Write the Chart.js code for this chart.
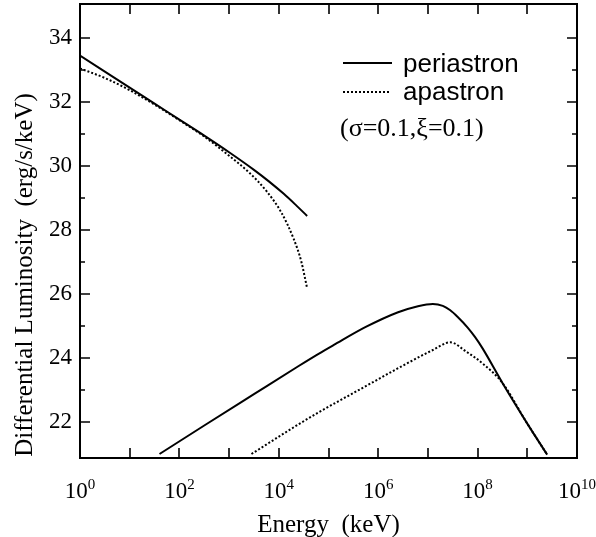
<!DOCTYPE html>
<html>
<head>
<meta charset="utf-8">
<script src="https://cdn.jsdelivr.net/npm/chart.js@4.4.1/dist/chart.umd.min.js"></script>
<style>
  html, body { margin: 0; padding: 0; background: #fff; }
  #wrap { width: 596px; height: 537px; }
</style>
</head>
<body>
<div id="wrap"><canvas id="myChart" width="596" height="537"></canvas></div>
<script>
// energies are given as log10(E / keV), luminosity as log10(erg/s/keV)
const periHighLogE = [0, 0.5, 1, 1.5, 2, 2.5, 3, 3.5, 3.8, 4.1, 4.35, 4.57];
const periHighLum  = [33.45, 32.95, 32.45, 31.95, 31.45, 30.95, 30.43, 29.88, 29.52, 29.13, 28.77, 28.44];

const apoHighLogE = [0, 0.5, 1, 1.5, 2, 2.5, 3, 3.4, 3.75, 4.05, 4.3, 4.45, 4.57];
const apoHighLum  = [33.05, 32.75, 32.37, 31.92, 31.43, 30.92, 30.32, 29.8, 29.22, 28.55, 27.72, 27.03, 26.18];

const periLowLogE = [1.6, 2.5, 3.5, 4.4, 4.8, 5.1, 5.75, 6.4, 6.8, 7.1, 7.3, 7.45, 7.6, 7.8, 7.95, 8.1, 8.5, 9.0, 9.4];
const periLowLum  = [21.0, 21.89, 22.87, 23.75, 24.13, 24.4, 24.97, 25.43, 25.62, 25.69, 25.63, 25.49, 25.28, 24.95, 24.65, 24.3, 23.22, 21.95, 20.98];

const apoLowLogE = [3.45, 4.4, 4.8, 5.75, 6.4, 7.1, 7.45, 7.77, 8.1, 8.5, 9.0, 9.4];
const apoLowLum  = [21.0, 21.93, 22.3, 23.12, 23.68, 24.25, 24.49, 24.2, 23.83, 23.22, 21.95, 20.98];

const yTickValues = [22, 24, 26, 28, 30, 32, 34];
const xTickExps = [0, 2, 4, 6, 8, 10];

const serif = '"Liberation Serif", "Times New Roman", serif';
const sans = '"Liberation Sans", Arial, sans-serif';

const toPoints = (logE, lum) => logE.map((e, i) => ({ x: Math.pow(10, e), y: lum[i] }));

function line(label, logE, lum, dotted) {
    return {
        label: label,
        data: toPoints(logE, lum),
        borderColor: '#000',
        borderWidth: 2,
        borderDash: dotted ? [2, 2] : [],
        borderCapStyle: 'butt',
        pointRadius: 0,
        fill: false,
        cubicInterpolationMode: 'monotone'
    };
}

// frame with inward ticks, superscript x labels, titles and legend
const frame = {
    id: 'frame',
    afterDraw(chart) {
        const { ctx, chartArea: a, scales: { x, y } } = chart;
        ctx.save();
        ctx.strokeStyle = '#000';
        ctx.lineWidth = 2;
        ctx.strokeRect(a.left, a.top, a.right - a.left, a.bottom - a.top);

        ctx.lineWidth = 1.6;
        ctx.beginPath();
        for (let e = 1; e <= 9; e++) {
            const px = Math.round(x.getPixelForValue(Math.pow(10, e)));
            ctx.moveTo(px, a.bottom); ctx.lineTo(px, a.bottom - 10);
            ctx.moveTo(px, a.top); ctx.lineTo(px, a.top + 10);
        }
        for (let v = 22; v <= 34; v++) {
            const py = Math.round(y.getPixelForValue(v));
            const len = v % 2 === 0 ? 10 : 5;
            ctx.moveTo(a.left, py); ctx.lineTo(a.left + len, py);
            ctx.moveTo(a.right, py); ctx.lineTo(a.right - len, py);
        }
        ctx.stroke();

        ctx.fillStyle = '#000';
        ctx.textBaseline = 'alphabetic';
        ctx.textAlign = 'left';
        xTickExps.forEach(e => {
            const px = x.getPixelForValue(Math.pow(10, e));
            ctx.font = '23px ' + serif;
            const w1 = ctx.measureText('10').width;
            ctx.font = '15px ' + serif;
            const w2 = ctx.measureText(String(e)).width;
            const left = px - (w1 + w2) / 2;
            ctx.font = '23px ' + serif;
            ctx.fillText('10', left, 498);
            ctx.font = '15px ' + serif;
            ctx.fillText(String(e), left + w1, 489);
        });

        ctx.textAlign = 'center';
        ctx.font = '25px ' + serif;
        ctx.fillText('Energy  (keV)', (a.left + a.right) / 2, 532);

        ctx.save();
        ctx.translate(32, 275);
        ctx.rotate(-Math.PI / 2);
        ctx.fillText('Differential Luminosity  (erg/s/keV)', 0, 0);
        ctx.restore();

        // legend
        ctx.lineWidth = 2;
        ctx.beginPath();
        ctx.moveTo(343, 63); ctx.lineTo(392, 63);
        ctx.stroke();
        ctx.setLineDash([2, 2]);
        ctx.beginPath();
        ctx.moveTo(343, 92); ctx.lineTo(391, 92);
        ctx.stroke();
        ctx.setLineDash([]);
        ctx.textAlign = 'left';
        ctx.font = '26px ' + sans;
        ctx.fillText('periastron', 403, 72);
        ctx.fillText('apastron', 403, 100);
        ctx.font = '26px ' + serif;
        ctx.fillText('(σ=0.1,ξ=0.1)', 340, 136);
        ctx.restore();
    }
};

const ctx = document.getElementById('myChart');

new Chart(ctx, {
    type: 'line',
    data: {
        datasets: [
            line('periastron', periHighLogE, periHighLum, false),
            line('apastron', apoHighLogE, apoHighLum, true),
            line('periastron', periLowLogE, periLowLum, false),
            line('apastron', apoLowLogE, apoLowLum, true)
        ]
    },
    options: {
        responsive: false,
        animation: false,
        devicePixelRatio: 1,
        layout: {
            padding: { left: 0, right: 19, top: 4, bottom: 0 }
        },
        scales: {
            x: {
                type: 'logarithmic',
                min: 1,
                max: 1e10,
                grid: { display: false },
                border: { display: false },
                ticks: { display: false },
                afterFit: function(scale) {
                    scale.height = 79;
                }
            },
            y: {
                type: 'linear',
                min: 20.875,
                max: 35.0625,
                grid: { display: false, drawTicks: false },
                border: { display: false },
                ticks: {
                    color: '#000',
                    padding: 8,
                    font: { size: 23, family: serif }
                },
                afterBuildTicks: function(axis) {
                    axis.ticks = yTickValues.map(v => ({ value: v }));
                },
                afterFit: function(scale) {
                    scale.width = 80;
                    scale.paddingTop = 0;
                    scale.paddingBottom = 0;
                }
            }
        },
        plugins: {
            legend: { display: false },
            tooltip: { enabled: false }
        }
    },
    plugins: [frame]
});
</script>
</body>
</html>
